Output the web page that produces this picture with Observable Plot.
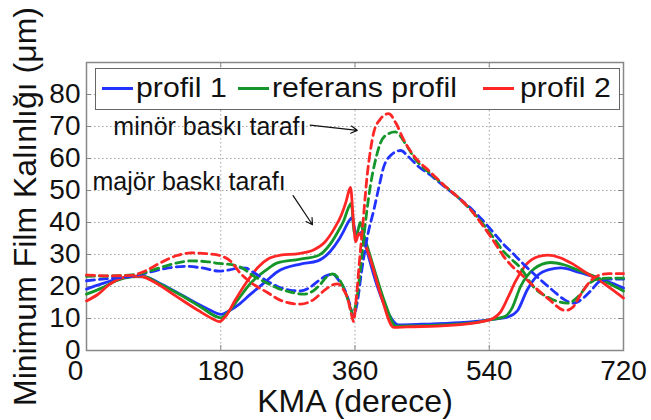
<!DOCTYPE html>
<html>
<head>
<meta charset="utf-8">
<script src="https://cdn.jsdelivr.net/npm/d3@7"></script>
<script src="https://cdn.jsdelivr.net/npm/@observablehq/plot@0.6"></script>
<style>
  body { margin: 0; background: #fff; }
  #chart { position: relative; width: 651px; height: 420px; font-family: "Liberation Sans", Arial, sans-serif; }
  #chart svg { display: block; }
  .legend { position: absolute; left: 95px; top: 68px; width: 523px; height: 40px; border: 1px solid #666; background: #fff; }
  .sw { position: absolute; top: 18px; width: 31px; height: 0; border-top: 3px solid; }
  .lab { position: absolute; top: 6px; font-size: 27px; line-height: 27px; white-space: nowrap; color: #111; transform: scaleX(1.12); transform-origin: left center; }
</style>
</head>
<body>
<div id="chart"></div>
<script>
// Crank angle ticks (derece) and film thickness ticks (µm)
const xTicks = [0, 180, 360, 540, 720];
const yTicks = [0, 10, 20, 30, 40, 50, 60, 70, 80];

const seriesNames = ["profil 1", "referans profil", "profil 2"];
const seriesColors = ["#2233ff", "#15962a", "#ff2626"];

// Major thrust side (solid lines): [crank angle, minimum film thickness]
const profil1Major = [[0,19.2],[20,20.8],[40,22.2],[60,23.1],[78,23],[100,20.8],[130,17],[160,13.3],[181,11.3],[192,12.5],[205,14.5],[220,17.6],[240,21.5],[256,24.6],[287,27],[310,28],[327,31],[338,34.5],[345,37.4],[352,40.5],[356,41.5],[360,37.5],[364,36],[369,37],[375,32],[390,20],[405,11.5],[418,8],[450,8.2],[500,8.7],[540,9.6],[565,10.5],[578,12.5],[591,19],[605,23.5],[620,25.3],[636,25.8],[662,24.3],[685,22.6],[705,21],[720,19.5]];
const referansMajor = [[0,17.6],[20,19.5],[40,21.8],[60,23],[75,23.2],[95,21.2],[125,17.5],[155,13.3],[175,10.5],[180,10.2],[190,12],[205,16.5],[220,21],[240,25],[256,27.4],[285,28.5],[310,29.6],[327,33.3],[338,37.5],[345,40.6],[351,44.5],[355,46],[359,37],[362,36],[367,40],[372,36],[385,26],[400,15],[415,7.6],[440,7.7],[480,8],[520,8.7],[540,9.6],[560,10.5],[570,13],[582,20],[600,25.5],[622,27.5],[640,26.8],[660,25],[680,23.3],[700,21],[720,18.6]];
const profil2Major = [[0,15.5],[15,17.5],[30,20.5],[45,22.5],[60,23.2],[72,23.2],[90,21.5],[120,17],[150,12.5],[170,9.8],[178,9],[186,10.5],[200,16],[215,21.5],[230,26],[245,28.8],[260,29.8],[285,30.3],[305,31.5],[320,34],[332,38],[342,42.5],[348,46.5],[352,50],[354,51],[358,40],[361,34],[365,36.5],[370,35],[380,29],[395,17],[412,7.2],[430,7.4],[470,7.6],[510,8.3],[530,9],[545,10],[555,12],[565,16.5],[575,21.5],[590,27],[605,29.3],[618,29.8],[635,29],[650,27.3],[672,24],[690,21.5],[705,19],[720,16.4]];

// Minor thrust side (dashed lines)
const profil1Minor = [[0,21.8],[30,22.5],[60,23.2],[85,24.5],[110,25.8],[134,26.3],[155,25.8],[178,24.8],[192,25.2],[205,25.8],[214,25.7],[225,24.2],[240,22],[256,20],[272,18.9],[287,18.6],[300,19.8],[310,21.6],[322,23.4],[330,23.9],[338,22],[347,18.6],[353,14.5],[358,10.8],[363,15],[369,25],[377,36],[385,43.7],[392,51],[398,57],[408,61],[421,62.5],[432,60.5],[445,57.5],[460,55],[480,51.2],[500,47.5],[515,44.5],[530,41],[545,37],[560,33],[569,31],[585,27.2],[600,23.9],[613,21.2],[626,18.6],[640,16],[653,14.8],[665,16.2],[676,18.6],[689,21.7],[705,22.3],[720,22.3]];
const referansMinor = [[0,23.2],[30,23.3],[60,23.6],[80,24.5],[100,26],[120,27.3],[140,28],[160,27.8],[178,27.2],[195,26.8],[210,25.6],[220,23.9],[240,21.3],[256,19.5],[275,18.2],[291,17.6],[305,18.8],[314,20.8],[322,23],[330,23.9],[337,22.8],[345,19.5],[351,15.5],[357,11.6],[363,17],[368,27],[374,40],[381,52],[388,60],[394,64.8],[403,67.5],[414,68.3],[428,64.5],[440,60],[460,55.5],[480,51.5],[500,47.5],[515,44],[530,40],[545,35.5],[559,31],[570,28.5],[582,25.8],[600,19.7],[620,16.5],[645,14.8],[660,17],[672,20.5],[685,22.3],[700,22.6],[720,22.6]];
const profil2Minor = [[0,23.6],[30,23.3],[60,23.5],[80,25],[100,27.5],[120,29.6],[140,30.5],[160,30.3],[180,29.6],[195,27.5],[206,24.2],[220,21.3],[242,18.2],[262,15.5],[287,14.5],[305,16],[318,18.6],[330,20.5],[337,20.8],[344,19.2],[350,16.4],[355,11.5],[358,9.1],[362,17],[366,28],[370,38],[376,54],[381,63],[385,68],[393,72],[405,74],[415,71],[425,66],[440,60.5],[460,56],[480,51.5],[500,47.5],[515,44],[530,39.5],[545,34.5],[559,29.5],[570,26.5],[582,24],[600,20],[620,16],[642,12.5],[652,13.5],[662,17.3],[675,21.5],[685,23.3],[700,24],[720,24]];

const majorSeries = [profil1Major, referansMajor, profil2Major];
const minorSeries = [profil1Minor, referansMinor, profil2Minor];

// Annotation labels with their arrows (data coordinates)
const notes = [
  {text: "minör baskı tarafı", x: 36, y: 70, ax1: 300, ay1: 70.4, ax2: 363, ay2: 68.8},
  {text: "majör baskı tarafı", x: 8, y: 52.8, ax1: 277, ay1: 48.4, ax2: 303, ay2: 39.3}
];

const toRows = (pairs, name, side) => pairs.map(([deg, v]) => ({deg, v, name, side}));
const solidRows = majorSeries.flatMap((s, i) => toRows(s, seriesNames[i], "major"));
const dashedRows = minorSeries.flatMap((s, i) => toRows(s, seriesNames[i], "minor"));

const W = 651, H = 420, mL = 86, mR = 28, mT = 62, mB = 70;
const innerW = W - mL - mR, innerH = H - mT - mB;
const lineStyle = {x: "deg", y: "v", z: "name", stroke: "name", strokeWidth: 2.8, curve: "monotone-x"};
const font = "Liberation Sans, Arial, sans-serif";
const tickText = {anchor: "bottom", tickSize: 0, tickPadding: 10, fontSize: 28, label: null};

const chart = Plot.plot({
  width: W, height: H,
  marginLeft: mL, marginRight: mR, marginTop: mT, marginBottom: mB,
  style: {fontFamily: font, background: "#fff", color: "#111"},
  x: {domain: [0, 720]},
  y: {domain: [0, 90]},
  color: {domain: seriesNames, range: seriesColors},
  marks: [
    Plot.gridX(xTicks, {stroke: "#999", strokeOpacity: 0.9, strokeDasharray: "1.5,2.5"}),
    Plot.gridY(yTicks, {stroke: "#999", strokeOpacity: 0.9, strokeDasharray: "1.5,2.5"}),
    Plot.tickX(xTicks, {x: d => d, insetTop: innerH - 5, stroke: "#888"}),
    Plot.tickX(xTicks, {x: d => d, insetBottom: innerH - 5, stroke: "#888"}),
    Plot.tickY(yTicks, {y: d => d, insetRight: innerW - 5, stroke: "#888"}),
    Plot.tickY(yTicks, {y: d => d, insetLeft: innerW - 5, stroke: "#888"}),
    Plot.frame({stroke: "#888", strokeWidth: 1.5}),
    Plot.line(solidRows, lineStyle),
    Plot.line(dashedRows, {...lineStyle, strokeDasharray: "8,5"}),
    // the origin label sits slightly left, clear of the y axis
    Plot.axisX(xTicks.slice(0, 1), {...tickText, dx: -11}),
    Plot.axisX(xTicks.slice(1), tickText),
    Plot.axisY(yTicks, {anchor: "left", tickSize: 0, tickPadding: 6, fontSize: 28, label: null}),
    Plot.text(["KMA (derece)"], {frameAnchor: "bottom", textAnchor: "middle", lineAnchor: "bottom", dy: 61, fontSize: 32, fill: "#111"}),
    Plot.text(["Minimum Film Kalınlığı (μm)"], {frameAnchor: "left", textAnchor: "middle", lineAnchor: "middle", rotate: -90, dx: -61, fontSize: 32, fill: "#111"}),
    Plot.text(notes, {x: "x", y: "y", text: "text", textAnchor: "start", fontSize: 25, fill: "#111"}),
    Plot.arrow(notes, {x1: "ax1", y1: "ay1", x2: "ax2", y2: "ay2", stroke: "#111", strokeWidth: 1.2, headLength: 9})
  ]
});

const root = document.getElementById("chart");
root.appendChild(chart);

// Legend box drawn inside the plot frame
const legend = document.createElement("div");
legend.className = "legend";
const swatchLeft = [6, 142, 387];
const labelLeft = [40, 176, 424];
seriesNames.forEach((name, i) => {
  const sw = document.createElement("div");
  sw.className = "sw";
  sw.style.left = swatchLeft[i] + "px";
  sw.style.borderTopColor = seriesColors[i];
  legend.appendChild(sw);
  const lab = document.createElement("div");
  lab.className = "lab";
  lab.style.left = labelLeft[i] + "px";
  lab.textContent = name;
  legend.appendChild(lab);
});
root.appendChild(legend);
</script>
</body>
</html>
